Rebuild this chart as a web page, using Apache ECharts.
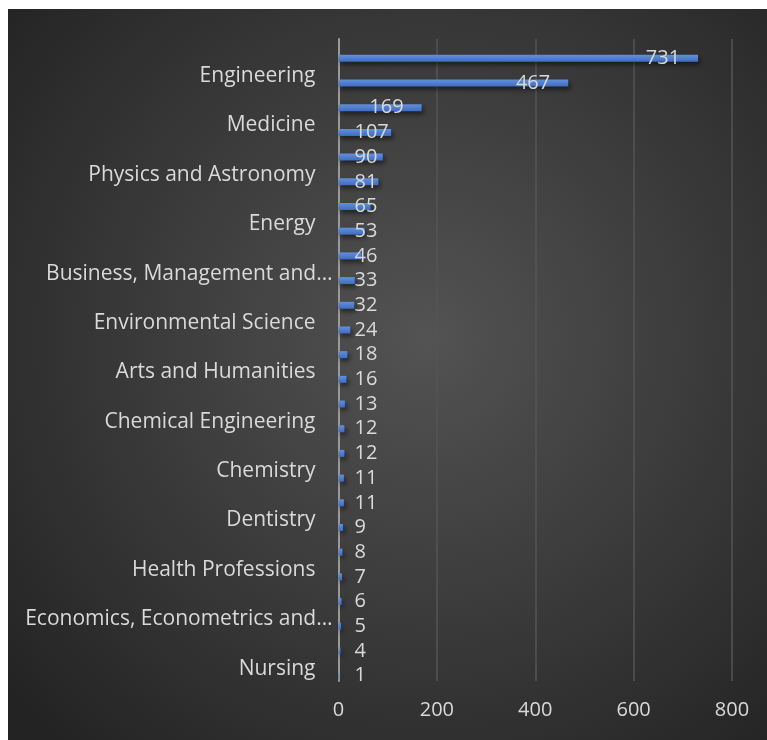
<!DOCTYPE html>
<html>
<head>
<meta charset="utf-8">
<script src="https://cdn.jsdelivr.net/npm/echarts@6/dist/echarts.min.js"></script>
<style>html,body{margin:0;padding:0;background:#fff;}#c{width:767px;height:740px;}</style>
</head>
<body>
<div id="c"></div>
<script>
const categories = [
  'Computer Science', 'Engineering', 'Mathematics', 'Medicine', 'Materials Science',
  'Physics and Astronomy', 'Earth and Planetary Sciences', 'Energy', 'Social Sciences',
  'Business, Management and…', 'Decision Sciences', 'Environmental Science',
  'Biochemistry, Genetics and…', 'Arts and Humanities', 'Neuroscience',
  'Chemical Engineering', 'Agricultural and Biological…', 'Chemistry', 'Multidisciplinary',
  'Dentistry', 'Psychology', 'Health Professions', 'Immunology and Microbiology',
  'Economics, Econometrics and…', 'Pharmacology, Toxicology and…', 'Nursing'
];
const values = [731, 467, 169, 107, 90, 81, 65, 53, 46, 33, 32, 24, 18, 16, 13, 12, 12, 11, 11, 9, 8, 7, 6, 5, 4, 1];
const xTicks = { min: 0, max: 800, interval: 200 };

const FONT = '"Open Sans", "Noto Sans", sans-serif';
const TXT = '#d9d9d9';
const plotLeft = 338.5, plotRight = 732;
const ppu = (plotRight - plotLeft) / xTicks.max;

const barData = values.map(v => {
  const textW = String(v).length * 11.3;
  const fitsInside = v * ppu - 18 - textW >= 16;
  return {
    value: v,
    label: fitsInside ? { position: 'insideRight', distance: 18 } : { position: 'insideLeft', distance: 16 }
  };
});

const chart = echarts.init(document.getElementById('c'), null, { renderer: 'canvas' });
chart.setOption({
  backgroundColor: '#ffffff',
  animation: false,
  graphic: [{
    type: 'rect', z: -10, silent: true,
    shape: { x: 8, y: 9, width: 759, height: 731 },
    style: {
      fill: {
        type: 'radial', x: 0.55, y: 0.45, r: 0.75,
        colorStops: [{ offset: 0, color: '#535353' }, { offset: 1, color: '#232323' }]
      }
    }
  }],
  grid: [
    { left: plotLeft, right: 767 - plotRight, top: 39, bottom: 59, containLabel: false },
    { left: plotLeft, right: 767 - plotRight, top: 46, bottom: 52, containLabel: false }
  ],
  xAxis: [
    {
      gridIndex: 0, type: 'value', min: xTicks.min, max: xTicks.max, interval: xTicks.interval,
      axisLine: { show: false }, axisTick: { show: false },
      splitLine: { show: true, lineStyle: { color: '#555555', width: 1.5 } },
      axisLabel: { color: TXT, fontSize: 20, fontFamily: FONT, margin: 19 }
    },
    {
      gridIndex: 1, type: 'value', min: xTicks.min, max: xTicks.max, show: false
    }
  ],
  yAxis: [
    {
      gridIndex: 0, type: 'category', data: categories, inverse: true,
      axisLine: { show: true, lineStyle: { color: '#9a9a9a', width: 2 } },
      axisTick: { show: false },
      splitLine: { show: false },
      axisLabel: {
        interval: (i) => i % 2 === 1,
        color: TXT, fontSize: 21, fontFamily: FONT, margin: 6,
        formatter: (s) => s.endsWith('…') ? '{n|' + s + '}' : '{n|' + s + '}{s| }',
        rich: {
          n: { color: TXT, fontSize: 21, fontFamily: FONT },
          s: { width: 17, fontSize: 21 }
        }
      }
    },
    {
      gridIndex: 1, type: 'category', data: categories, inverse: true, show: false
    }
  ],
  series: [{
    type: 'bar', xAxisIndex: 1, yAxisIndex: 1,
    data: barData, barWidth: 7,
    itemStyle: {
      color: {
        type: 'linear', x: 0, y: 0, x2: 0, y2: 1,
        colorStops: [{ offset: 0, color: '#6290dc' }, { offset: 1, color: '#3f6cc0' }]
      },
      shadowBlur: 5, shadowColor: 'rgba(0,0,0,0.55)', shadowOffsetX: 2, shadowOffsetY: 3
    },
    label: {
      show: true, color: TXT, fontSize: 20, fontFamily: FONT
    }
  }]
});
</script>
</body>
</html>
